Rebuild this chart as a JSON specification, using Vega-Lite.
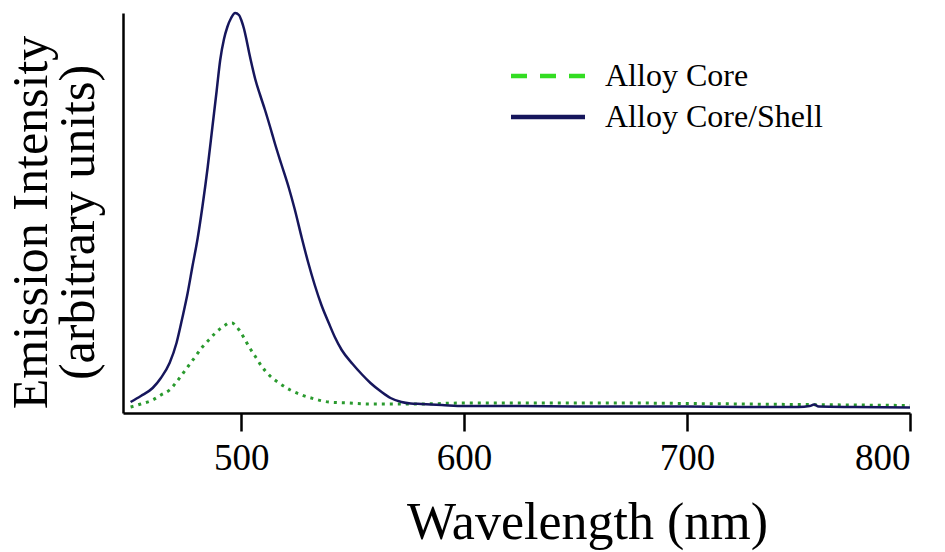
{
  "$schema": "https://vega.github.io/schema/vega-lite/v6.json",
  "width": 787,
  "height": 400,
  "autosize": "none",
  "padding": {"left": 123, "top": 13, "right": 35, "bottom": 139},
  "background": "white",
  "config": {
    "view": {"stroke": null},
    "font": "Liberation Serif"
  },
  "datasets": {
    "shell": [
      {"nm": 450.4, "v": 11}, {"nm": 455, "v": 17}, {"nm": 460.3, "v": 25}, {"nm": 464, "v": 35},
      {"nm": 467.9, "v": 50}, {"nm": 471, "v": 70}, {"nm": 473.7, "v": 96}, {"nm": 476, "v": 120},
      {"nm": 478.1, "v": 146}, {"nm": 480.5, "v": 175}, {"nm": 482.6, "v": 206}, {"nm": 485, "v": 246},
      {"nm": 487.1, "v": 286}, {"nm": 489, "v": 322}, {"nm": 490.6, "v": 353}, {"nm": 492.3, "v": 374},
      {"nm": 493.8, "v": 386}, {"nm": 495.5, "v": 395}, {"nm": 497.3, "v": 400}, {"nm": 499, "v": 398},
      {"nm": 500.2, "v": 392}, {"nm": 501.3, "v": 384}, {"nm": 502.5, "v": 372}, {"nm": 503.6, "v": 360},
      {"nm": 505, "v": 346}, {"nm": 506.3, "v": 334}, {"nm": 508.5, "v": 318}, {"nm": 510.7, "v": 303},
      {"nm": 513, "v": 286}, {"nm": 515.2, "v": 269}, {"nm": 518, "v": 249}, {"nm": 521.4, "v": 225},
      {"nm": 524, "v": 204}, {"nm": 527.2, "v": 175}, {"nm": 530, "v": 151}, {"nm": 533, "v": 128},
      {"nm": 536, "v": 108}, {"nm": 539.3, "v": 90}, {"nm": 542, "v": 76}, {"nm": 545.1, "v": 63},
      {"nm": 550, "v": 49}, {"nm": 554, "v": 39}, {"nm": 558, "v": 30}, {"nm": 563, "v": 21},
      {"nm": 567, "v": 15}, {"nm": 571.9, "v": 11}, {"nm": 576, "v": 9.5}, {"nm": 580.8, "v": 9},
      {"nm": 590, "v": 8}, {"nm": 600, "v": 7}, {"nm": 625, "v": 7}, {"nm": 650, "v": 6.5},
      {"nm": 675, "v": 6.5}, {"nm": 700, "v": 6.5}, {"nm": 725, "v": 6}, {"nm": 750, "v": 6},
      {"nm": 755, "v": 7}, {"nm": 757, "v": 8.5}, {"nm": 759, "v": 6.5}, {"nm": 775, "v": 6},
      {"nm": 800, "v": 5.5}
    ],
    "core": [
      {"nm": 450.4, "v": 6}, {"nm": 455, "v": 9}, {"nm": 460.3, "v": 13}, {"nm": 464, "v": 18},
      {"nm": 467.9, "v": 23}, {"nm": 471, "v": 31}, {"nm": 475, "v": 43}, {"nm": 479, "v": 55},
      {"nm": 482.6, "v": 66}, {"nm": 485.5, "v": 73}, {"nm": 488.4, "v": 80}, {"nm": 491, "v": 85},
      {"nm": 492.9, "v": 88}, {"nm": 494.5, "v": 90}, {"nm": 496, "v": 90}, {"nm": 497.6, "v": 87},
      {"nm": 499.1, "v": 83}, {"nm": 501.3, "v": 75}, {"nm": 503.6, "v": 66}, {"nm": 506.5, "v": 56},
      {"nm": 509.4, "v": 46}, {"nm": 513, "v": 37}, {"nm": 517, "v": 30}, {"nm": 522, "v": 23},
      {"nm": 527.2, "v": 18}, {"nm": 533, "v": 14}, {"nm": 539.3, "v": 11}, {"nm": 548, "v": 10},
      {"nm": 557.1, "v": 9}, {"nm": 568.8, "v": 9}, {"nm": 580, "v": 9}, {"nm": 600, "v": 10},
      {"nm": 625, "v": 10}, {"nm": 650, "v": 10}, {"nm": 675, "v": 10}, {"nm": 700, "v": 9.5},
      {"nm": 725, "v": 9}, {"nm": 750, "v": 8.5}, {"nm": 775, "v": 8}, {"nm": 800, "v": 7.5}
    ],
    "legend": [
      {"series": "Alloy Core", "nm": 450, "v": 0},
      {"series": "Alloy Core/Shell", "nm": 450, "v": 0}
    ]
  },
  "encoding": {
    "x": {
      "field": "nm", "type": "quantitative",
      "scale": {"domain": [447, 800], "nice": false, "zero": false},
      "axis": {
        "title": "Wavelength (nm)",
        "values": [500, 600, 700, 800],
        "grid": false,
        "domainColor": "black", "domainWidth": 2.5,
        "tickColor": "black", "tickWidth": 2.5, "tickSize": 18,
        "labelFontSize": 37, "labelColor": "black", "labelPadding": 9, "labelFont": "Liberation Serif",
        "titleFontSize": 52, "titleFontWeight": "normal", "titleColor": "black", "titlePadding": 21,
        "titleX": 464, "titleFont": "Liberation Serif"
      }
    },
    "y": {
      "field": "v", "type": "quantitative",
      "scale": {"domain": [0, 400], "nice": false},
      "axis": {
        "title": ["Emission Intensity", "(arbitrary units)"],
        "grid": false, "ticks": false, "labels": false,
        "domainColor": "black", "domainWidth": 2.5,
        "titleFontSize": 50, "titleFontWeight": "normal", "titleColor": "black",
        "titleLineHeight": 47, "titlePadding": 20, "titleY": 209, "titleFont": "Liberation Serif"
      }
    }
  },
  "layer": [
    {
      "data": {"name": "core"},
      "mark": {"type": "line", "color": "#2a9a2e", "strokeWidth": 3, "strokeDash": [3, 5], "interpolate": "monotone"}
    },
    {
      "data": {"name": "shell"},
      "mark": {"type": "line", "color": "#16165c", "strokeWidth": 2.5, "interpolate": "monotone"}
    },
    {
      "data": {"name": "legend"},
      "transform": [{"filter": "datum.v > 1"}],
      "mark": {"type": "line", "strokeWidth": 4},
      "encoding": {
        "color": {
          "field": "series", "type": "nominal",
          "scale": {"domain": ["Alloy Core", "Alloy Core/Shell"], "range": ["#33dd22", "#16165c"]},
          "legend": {
            "title": null, "orient": "none", "legendX": 404, "legendY": 42,
            "symbolType": "M-2,0H2", "symbolSize": 1369, "symbolStrokeWidth": 4.5,
            "labelFontSize": 32, "labelColor": "black", "labelFont": "Liberation Serif",
            "labelOffset": 36, "labelLimit": 0, "rowPadding": 4
          }
        },
        "strokeDash": {
          "field": "series", "type": "nominal",
          "scale": {"domain": ["Alloy Core", "Alloy Core/Shell"], "range": [[16, 13], [1, 0]]},
          "legend": null
        }
      }
    }
  ]
}
